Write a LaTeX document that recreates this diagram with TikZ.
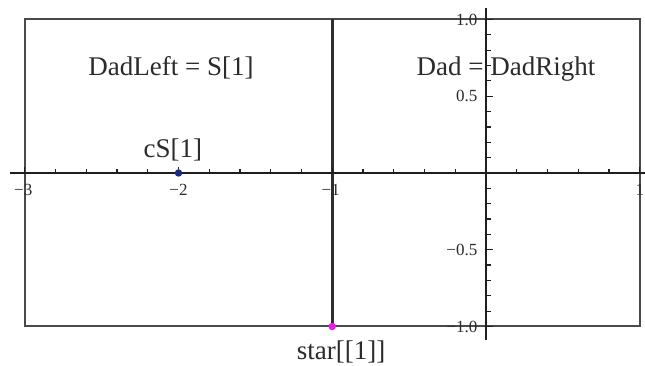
\documentclass[tikz,border=0pt]{standalone}
\usepackage{fontspec}
\setmainfont{Liberation Serif}
\definecolor{txt}{HTML}{2B2B2B}
\definecolor{boxc}{HTML}{4A4A4A}
\definecolor{linec}{HTML}{2E2E2E}
\definecolor{axisc}{HTML}{1E1E1E}
\definecolor{dotblue}{HTML}{1C2A86}
\definecolor{dotmag}{HTML}{E41EE4}
\begin{document}
\begin{tikzpicture}[x=153.75pt,y=153.5pt,
  biglbl/.style={font=\fontsize{27}{27}\selectfont, text=txt, inner sep=0pt, anchor=base},
  xticklbl/.style={font=\fontsize{17}{17}\selectfont, text=txt, inner sep=0pt, anchor=north},
  yticklbl/.style={font=\fontsize{17}{17}\selectfont, text=txt, inner sep=0pt, anchor=east},
  frame/.style={draw=boxc, line width=2pt},
  midline/.style={draw=linec, line width=2.5pt},
  axisline/.style={draw=axisc, line width=1.3pt},
  tickline/.style={draw=axisc, line width=1.2pt},
  pt/.style={circle, inner sep=0pt, minimum size=7.5pt}]
\useasboundingbox (-3.1610,-1.2573) rectangle (1.0341,1.1270);
% big labels
\node[biglbl] (dadleft) at (-2.049,0.638) {DadLeft = S[1]};
\node[biglbl] (dadright) at (0.130,0.638) {Dad = DadRight};
% frame
\draw[frame] (-3,-1) rectangle (1,1);
% vertical segment
\coordinate (segtop) at (-1,1);
\coordinate (segbot) at (-1,-1);
\draw[midline] (segtop) -- (segbot);
% axes
\coordinate (xl) at (-3.096,0);
\coordinate (xr) at (1.034,0);
\coordinate (yt) at (0,1.075);
\coordinate (yb) at (0,-1.088);
\draw[axisline] (xl) -- (xr);
\draw[axisline] (yt) -- (yb);
% x ticks
\foreach \k in {0,...,20}{
  \pgfmathsetmacro{\xx}{-3+0.2*\k}
  \draw[tickline] (\xx,0) -- ++(0,4pt);
}
\foreach \xx in {-3,-2,-1,1}{
  \draw[tickline] (\xx,0) -- ++(0,6pt);
}
% y ticks
\foreach \k in {-10,...,10}{
  \pgfmathsetmacro{\yy}{0.1*\k}
  \draw[tickline] (0,\yy) -- ++(4.5pt,0);
}
\foreach \yy in {-1,-0.5,0.5,1}{
  \draw[tickline] (0,\yy) -- ++(6.5pt,0);
}
% tick labels
\node[xticklbl] (xm3) at ([yshift=-11pt]-3.01,0) {−3};
\node[xticklbl] (xm2) at ([yshift=-11pt]-2,0) {−2};
\node[xticklbl] (xm1) at ([yshift=-11pt]-1.01,0) {−1};
\node[xticklbl] (xp1) at ([yshift=-11pt]1,0) {1};
\node[yticklbl] (y10) at ([xshift=-8.5pt]0,1) {1.0};
\node[yticklbl] (y05) at ([xshift=-8.5pt]0,0.5) {0.5};
\node[yticklbl] (ym05) at ([xshift=-8.5pt]0,-0.5) {−0.5};
\node[yticklbl] (ym10) at ([xshift=-8.5pt]0,-1) {−1.0};
% points
\node[pt, fill=dotblue] (cs) at (-2,0) {};
\node[pt, fill=dotmag] (star) at (-1,-1) {};
\node[biglbl] (cslbl) at (-2.036,0.104) {cS[1]};
\node[biglbl] (starlbl) at (-0.943,-1.218) {star[[1]]};
\end{tikzpicture}
\end{document}
